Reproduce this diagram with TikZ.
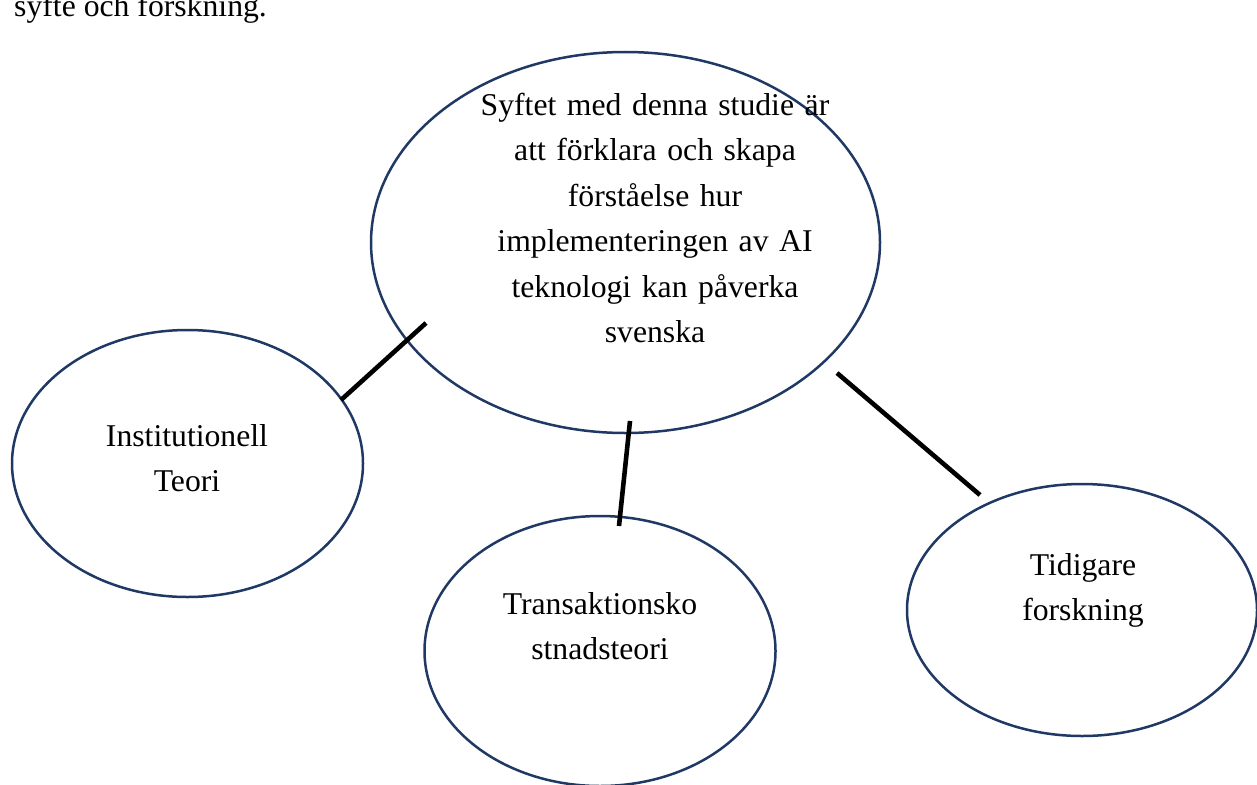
\documentclass[tikz,border=0pt]{standalone}
\usepackage{fontspec}
\setmainfont{Liberation Serif}
\usetikzlibrary{shapes.geometric}
\definecolor{navy}{HTML}{1F3864}
\tikzset{
  bubble/.style={draw=navy, line width=2.5pt, ellipse, inner sep=0pt},
  label text/.style={anchor=base, align=center, inner sep=0pt,
    font=\fontsize{31.7}{45.5}\selectfont},
  link/.style={draw=black, line width=4.6pt}
}
\begin{document}
\begin{tikzpicture}[x=1pt, y=-1pt]
\useasboundingbox (0,0) rectangle (1257,784);
% top text (cut off at page top, as in the reference)
\node[anchor=base west, inner sep=0pt, font=\fontsize{31.7}{45.5}\selectfont] (top) at (14,17) {syfte och forskning.};
% ellipses
\node[bubble, minimum width=509pt, minimum height=381pt] (main) at (625.5,242.5) {};
\node[bubble, minimum width=351pt, minimum height=267pt] (inst) at (187.5,463.5) {};
\node[bubble, minimum width=351pt, minimum height=270pt] (trans) at (600,651) {};
\node[bubble, minimum width=350pt, minimum height=252pt] (tid) at (1082,610) {};
% texts
\node[label text, text width=420pt] (maintxt) at (655,115) {Syftet med denna studie är\\att förklara och skapa\\förståelse hur\\implementeringen av AI\\teknologi kan påverka\\svenska};
\node[label text, text width=300pt] (insttxt) at (187,446) {Institutionell\\Teori};
\node[label text, text width=300pt] (transtxt) at (600,614) {Transaktionsko\\stnadsteori};
\node[label text, text width=300pt] (tidtxt) at (1083,575) {Tidigare\\forskning};
% connectors
\coordinate (l1a) at (426,323);
\coordinate (l1b) at (341,400);
\coordinate (l2a) at (630,421);
\coordinate (l2b) at (619,526);
\coordinate (l3a) at (837,373);
\coordinate (l3b) at (980,495);
\draw[link] (l1a) -- (l1b);
\draw[link] (l2a) -- (l2b);
\draw[link] (l3a) -- (l3b);
\end{tikzpicture}
\end{document}
